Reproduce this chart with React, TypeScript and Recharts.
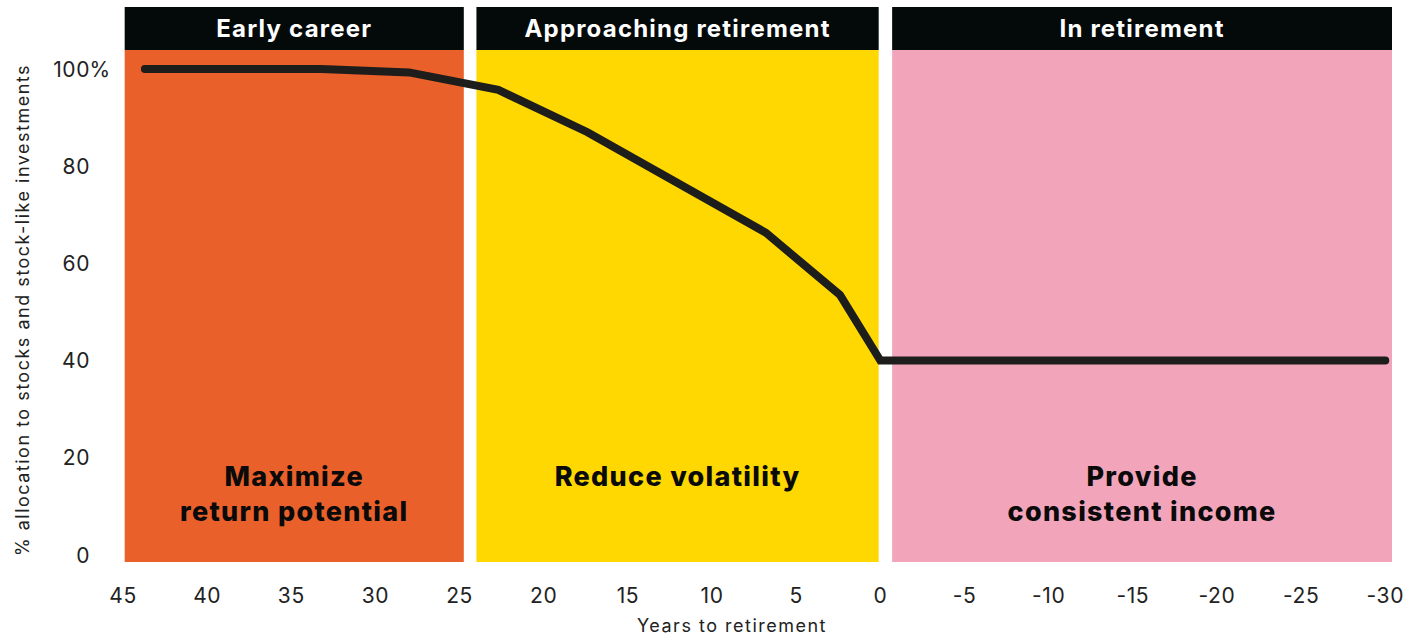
import { LineChart, Line, XAxis, YAxis, ReferenceArea } from 'recharts';

// glide path: years to retirement vs % in stocks
const YEARS = [43.7, 33.2, 28, 22.7, 17.4, 6.8, 2.4, 0, -30];
const ALLOCATION = [100, 100, 99.3, 95.7, 87, 66.3, 53.5, 40, 40];

const X_TICKS = [45, 40, 35, 30, 25, 20, 15, 10, 5, 0, -5, -10, -15, -20, -25, -30];
const Y_TICKS = [0, 20, 40, 60, 80, 100];

const PHASES = ['Early career', 'Approaching retirement', 'In retirement'];
const PHASE_GOALS = [['Maximize', 'return potential'], ['Reduce volatility'], ['Provide', 'consistent income']];
const PHASE_FROM = [44.9, 24, -0.7];
const PHASE_TO = [24.75, 0.1, -30.4];
const PHASE_COLORS = ['#E9602B', '#FED800', '#F2A5BA'];

const FONT = 'Inter, "Open Sans", sans-serif';
const Y_MIN = -1.44;
const Y_BAND_TOP = 103.9;
const Y_MAX = 112.76;

const data = YEARS.map((year, i) => ({ year, alloc: ALLOCATION[i] }));

const XTick = ({ x, y, payload }: any) => (
  <text
    x={x}
    y={y + 25}
    textAnchor="middle"
    dominantBaseline="central"
    fontSize={21}
    letterSpacing={0.6}
    fill="#222"
    fontFamily={FONT}
  >
    {payload.value}
  </text>
);

const YTick = ({ y, payload }: any) => (
  <g fontSize={21} fill="#222" fontFamily={FONT} letterSpacing={0.6}>
    <text x={90} y={y} textAnchor="end" dominantBaseline="central">
      {payload.value}
    </text>
    {payload.value === 100 && (
      <text x={89.5} y={y} textAnchor="start" dominantBaseline="central">
        %
      </text>
    )}
  </g>
);

const YLabel = () => (
  <text
    x={22}
    y={310}
    transform="rotate(-90, 22, 310)"
    textAnchor="middle"
    dominantBaseline="central"
    fontSize={18}
    letterSpacing={1.5}
    fill="#222"
    fontFamily={FONT}
  >
    % allocation to stocks and stock-like investments
  </text>
);

const XLabel = () => (
  <text
    x={732}
    y={625}
    textAnchor="middle"
    dominantBaseline="central"
    fontSize={18}
    letterSpacing={1.5}
    fill="#222"
    fontFamily={FONT}
  >
    Years to retirement
  </text>
);

const GoalLabel = ({ viewBox, lines }: any) => {
  const cx = viewBox.x + viewBox.width / 2;
  return (
    <text textAnchor="middle" fontSize={27} fontWeight={800} letterSpacing={1.3} fill="#0a0a0a" fontFamily={FONT}>
      {lines.map((l: string, i: number) => (
        <tspan key={i} x={cx} y={viewBox.y + 436 + i * 35}>
          {l}
        </tspan>
      ))}
    </text>
  );
};

const HeadLabel = ({ viewBox, name }: any) => (
  <text
    x={viewBox.x + viewBox.width / 2}
    y={viewBox.y + viewBox.height / 2}
    textAnchor="middle"
    dominantBaseline="central"
    fontSize={24}
    fontWeight={700}
    letterSpacing={1.2}
    fill="#fff"
    fontFamily={FONT}
  >
    {name}
  </text>
);

export default function App() {
  return (
    <div style={{ position: 'absolute', left: 0, top: 0, background: '#fff' }}>
      <LineChart width={1410} height={636} data={data} margin={{ top: 7, right: 18, bottom: 0, left: 0 }}>
        <XAxis
          dataKey="year"
          type="number"
          domain={[-30.4, 45]}
          reversed
          ticks={X_TICKS}
          interval={0}
          axisLine={false}
          tickLine={false}
          height={74}
          tick={<XTick />}
          label={<XLabel />}
        />
        <YAxis
          type="number"
          domain={[Y_MIN, Y_MAX]}
          allowDataOverflow
          ticks={Y_TICKS}
          interval={0}
          axisLine={false}
          tickLine={false}
          width={123}
          tick={<YTick />}
          label={<YLabel />}
        />
        {PHASES.map((name, i) => (
          <ReferenceArea
            key={'band' + i}
            x1={PHASE_FROM[i]}
            x2={PHASE_TO[i]}
            y1={Y_MIN}
            y2={Y_BAND_TOP}
            fill={PHASE_COLORS[i]}
            fillOpacity={1}
            stroke="none"
            ifOverflow="visible"
            label={<GoalLabel lines={PHASE_GOALS[i]} />}
          />
        ))}
        {PHASES.map((name, i) => (
          <ReferenceArea
            key={'head' + i}
            x1={PHASE_FROM[i]}
            x2={PHASE_TO[i]}
            y1={Y_BAND_TOP}
            y2={Y_MAX}
            fill="#040a0a"
            fillOpacity={1}
            stroke="none"
            ifOverflow="visible"
            label={<HeadLabel name={name} />}
          />
        ))}
        <Line
          type="linear"
          dataKey="alloc"
          stroke="#1d1d1b"
          strokeWidth={8}
          strokeLinecap="round"
          strokeLinejoin="miter"
          dot={false}
          activeDot={false}
          isAnimationActive={false}
        />
      </LineChart>
    </div>
  );
}
